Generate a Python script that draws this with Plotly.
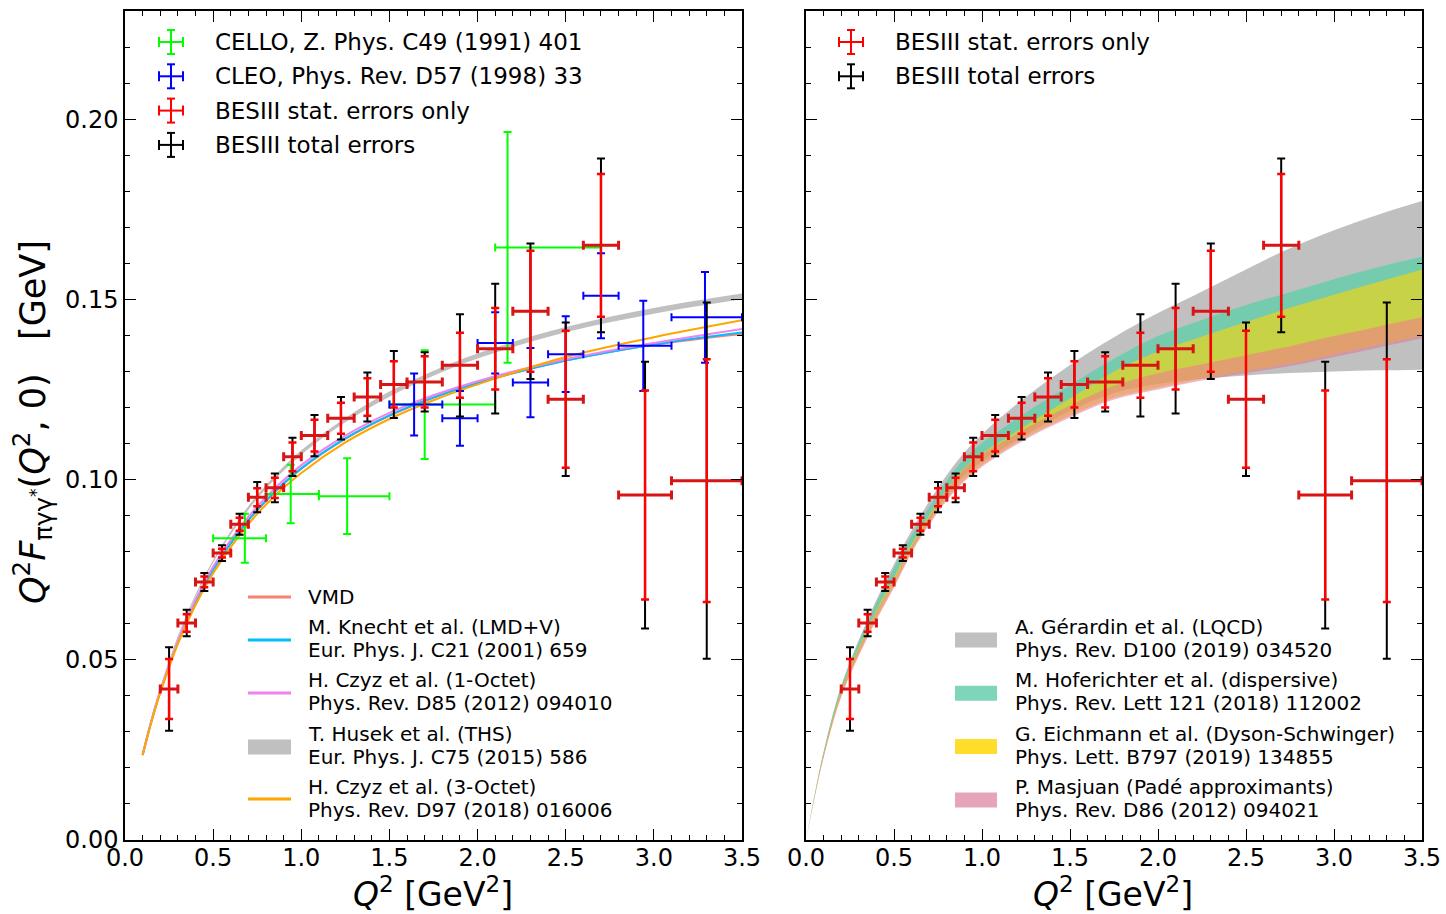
import plotly.graph_objects as go

W, H = 1446, 914
FONT = "DejaVu Sans"

# ---------------- BESIII measurement ----------------
bes_q2 = [0.25, 0.35, 0.45, 0.55, 0.65, 0.75, 0.85, 0.95, 1.075, 1.225, 1.375, 1.525,
          1.70, 1.90, 2.10, 2.30, 2.50, 2.70, 2.95, 3.30]
bes_dq2 = [0.05, 0.05, 0.05, 0.05, 0.05, 0.05, 0.05, 0.05, 0.075, 0.075, 0.075, 0.075,
           0.10, 0.10, 0.10, 0.10, 0.10, 0.10, 0.15, 0.20]
bes_val = [0.0419, 0.0602, 0.0716, 0.0796, 0.0876, 0.0951, 0.0977, 0.1063, 0.1122, 0.1170,
           0.1229, 0.1264, 0.1271, 0.1317, 0.1363, 0.1467, 0.1223, 0.1650, 0.0957, 0.0997]
bes_stat = [0.0083, 0.0024, 0.0015, 0.0012, 0.0018, 0.0025, 0.0028, 0.0040, 0.0044, 0.0043,
            0.0052, 0.0064, 0.0071, 0.0090, 0.0113, 0.0168, 0.0190, 0.0198, 0.0290, 0.0337]
bes_tot = [0.0116, 0.0037, 0.0025, 0.0022, 0.0029, 0.0042, 0.0040, 0.0053, 0.0057, 0.0059,
           0.0068, 0.0093, 0.0082, 0.0142, 0.0180, 0.0188, 0.0213, 0.0241, 0.0370, 0.0494]

# ---------------- CELLO ----------------
cello_q2 = [0.68, 0.94, 1.26, 1.70, 2.17]
cello_lo = [0.50, 0.80, 1.10, 1.50, 2.10]
cello_hi = [0.80, 1.10, 1.50, 2.10, 2.70]
cello_val = [0.0837, 0.0960, 0.0954, 0.1208, 0.1644]
cello_err = [0.0068, 0.0081, 0.0105, 0.0151, 0.0320]

# ---------------- CLEO ----------------
cleo_q2 = [1.64, 1.90, 2.10, 2.30, 2.50, 2.70, 2.94, 3.29]
cleo_lo = [1.50, 1.80, 2.00, 2.20, 2.40, 2.60, 2.80, 3.10]
cleo_hi = [1.80, 2.00, 2.20, 2.40, 2.60, 2.80, 3.10, 3.50]
cleo_val = [0.1208, 0.1170, 0.1379, 0.1269, 0.1348, 0.1510, 0.1371, 0.1450]
cleo_err = [0.0086, 0.0076, 0.0085, 0.0096, 0.0105, 0.0118, 0.0125, 0.0126]

# ---------------- model curves (left panel) ----------------
th_q2 = [0.1, 0.15, 0.2, 0.3, 0.4, 0.5, 0.65, 0.8, 1.0, 1.25, 1.5, 1.75, 2.0, 2.5, 3.0, 3.5]
vmd = [0.0235, 0.0329, 0.0411, 0.0549, 0.0659, 0.0749, 0.0856, 0.0941, 0.1030, 0.1113,
       0.1177, 0.1227, 0.1268, 0.1330, 0.1374, 0.1404]
knecht = [0.0236, 0.0330, 0.0412, 0.0550, 0.0660, 0.0750, 0.0857, 0.0942, 0.1031, 0.1114,
          0.1178, 0.1228, 0.1268, 0.1330, 0.1375, 0.1408]
czyz1 = [0.0237, 0.0332, 0.0415, 0.0555, 0.0667, 0.0758, 0.0866, 0.0951, 0.1040, 0.1122,
         0.1185, 0.1234, 0.1273, 0.1334, 0.1379, 0.1418]
czyz3 = [0.0236, 0.0328, 0.0408, 0.0544, 0.0652, 0.0740, 0.0846, 0.0931, 0.1018, 0.1103,
         0.1168, 0.1220, 0.1264, 0.1340, 0.1395, 0.1442]
ths_lo = [0.0235, 0.0330, 0.0415, 0.0558, 0.0674, 0.0769, 0.0883, 0.0975, 0.1069, 0.1159,
          0.1230, 0.1288, 0.1336, 0.1409, 0.1460, 0.1500]
ths_hi = [0.0239, 0.0336, 0.0421, 0.0566, 0.0682, 0.0777, 0.0893, 0.0985, 0.1081, 0.1171,
          0.1244, 0.1302, 0.1350, 0.1423, 0.1476, 0.1516]

# ---------------- theory bands (right panel) ----------------
band_q2 = [0.0, 0.05, 0.1, 0.2, 0.35, 0.5, 0.65, 0.9, 1.2, 1.5, 1.75, 2.0, 2.25, 2.5,
           2.75, 3.0, 3.25, 3.5]
lqcd_lo = [0.0, 0.0122, 0.0232, 0.0405, 0.0575, 0.0720, 0.0848, 0.1012, 0.1110, 0.1190,
           0.1240, 0.1265, 0.1280, 0.1289, 0.1296, 0.1300, 0.1303, 0.1305]
lqcd_hi = [0.0, 0.0128, 0.0245, 0.0428, 0.0612, 0.0765, 0.0900, 0.1075, 0.1210, 0.1318,
           0.1395, 0.1462, 0.1522, 0.1583, 0.1642, 0.1692, 0.1735, 0.1773]
disp_lo = [0.0, 0.0124, 0.0236, 0.0410, 0.0582, 0.0722, 0.0855, 0.1030, 0.1128, 0.1205,
           0.1260, 0.1295, 0.1320, 0.1345, 0.1370, 0.1398, 0.1424, 0.1450]
disp_hi = [0.0, 0.0127, 0.0243, 0.0424, 0.0605, 0.0755, 0.0885, 0.1058, 0.1170, 0.1262,
           0.1335, 0.1398, 0.1443, 0.1484, 0.1520, 0.1556, 0.1589, 0.1618]
dse_lo = [0.0, 0.0121, 0.0230, 0.0399, 0.0566, 0.0704, 0.0842, 0.1000, 0.1103, 0.1177,
          0.1227, 0.1255, 0.1280, 0.1301, 0.1321, 0.1347, 0.1373, 0.1398]
dse_hi = [0.0, 0.0125, 0.0238, 0.0414, 0.0588, 0.0730, 0.0862, 0.1033, 0.1135, 0.1225,
          0.1300, 0.1355, 0.1397, 0.1437, 0.1477, 0.1513, 0.1548, 0.1583]
pade_lo = [0.0, 0.0120, 0.0228, 0.0396, 0.0562, 0.0700, 0.0838, 0.0995, 0.1098, 0.1172,
           0.1222, 0.1250, 0.1275, 0.1296, 0.1315, 0.1340, 0.1366, 0.1392]
pade_hi = [0.0, 0.0124, 0.0236, 0.0410, 0.0582, 0.0722, 0.0855, 0.1030, 0.1128, 0.1205,
           0.1260, 0.1295, 0.1320, 0.1345, 0.1370, 0.1398, 0.1424, 0.1450]

# ---------------- legend texts ----------------
exp_labels = ["CELLO, Z. Phys. C49 (1991) 401", "CLEO, Phys. Rev. D57 (1998) 33",
              "BESIII stat. errors only", "BESIII total errors"]
exp_colors = ["#00ff00", "#0000ff", "#ff0000", "#000000"]
model_names = ["VMD", "M. Knecht et al. (LMD+V)", "H. Czyz et al. (1-Octet)",
               "T. Husek et al. (THS)", "H. Czyz et al. (3-Octet)"]
model_refs = ["", "Eur. Phys. J. C21 (2001) 659", "Phys. Rev. D85 (2012) 094010",
              "Eur. Phys. J. C75 (2015) 586", "Phys. Rev. D97 (2018) 016006"]
band_names = ["A. Gérardin et al. (LQCD)", "M. Hoferichter et al. (dispersive)",
              "G. Eichmann et al. (Dyson-Schwinger)", "P. Masjuan (Padé approximants)"]
band_refs = ["Phys. Rev. D100 (2019) 034520", "Phys. Rev. Lett 121 (2018) 112002",
             "Phys. Lett. B797 (2019) 134855", "Phys. Rev. D86 (2012) 094021"]

C_VMD, C_KN, C_CZ1, C_THS, C_CZ3 = "#fa8072", "#00bfff", "#ee82ee", "#c0c0c0", "#ffa500"
C_LQCD = "rgb(192,192,192)"
C_DISP = "rgba(102,205,170,0.85)"
C_DSE = "rgba(255,215,0,0.6)"
C_PADE = "rgba(219,112,147,0.5)"

fig = go.Figure()
NOMARK = dict(size=1, color="rgba(0,0,0,0)")


def add_band(x, lo, hi, color, xa, ya):
    fig.add_trace(go.Scatter(x=x, y=lo, mode="lines", line=dict(width=0, shape="spline"),
                             showlegend=False, hoverinfo="skip", xaxis=xa, yaxis=ya))
    fig.add_trace(go.Scatter(x=x, y=hi, mode="lines", line=dict(width=0, shape="spline"),
                             fill="tonexty", fillcolor=color, showlegend=False,
                             hoverinfo="skip", xaxis=xa, yaxis=ya))


def add_besiii(xa, ya):
    fig.add_trace(go.Scatter(
        x=bes_q2, y=bes_val, mode="markers", marker=NOMARK, showlegend=False,
        error_y=dict(type="data", array=bes_tot, color="black", thickness=2, width=4),
        xaxis=xa, yaxis=ya))
    fig.add_trace(go.Scatter(
        x=bes_q2, y=bes_val, mode="markers", marker=NOMARK, showlegend=False,
        error_x=dict(type="data", array=bes_dq2, color="#d81414", thickness=3, width=4.5),
        error_y=dict(type="data", array=bes_stat, color="#ff0000", thickness=2.5, width=4),
        xaxis=xa, yaxis=ya))


# ---- left panel: models ----
fig.add_trace(go.Scatter(x=th_q2, y=vmd, mode="lines", line=dict(color=C_VMD, width=2, shape="spline"),
                         showlegend=False, xaxis="x", yaxis="y"))
fig.add_trace(go.Scatter(x=th_q2, y=knecht, mode="lines", line=dict(color=C_KN, width=2, shape="spline"),
                         showlegend=False, xaxis="x", yaxis="y"))
fig.add_trace(go.Scatter(x=th_q2, y=czyz1, mode="lines", line=dict(color=C_CZ1, width=2, shape="spline"),
                         showlegend=False, xaxis="x", yaxis="y"))
add_band(th_q2, ths_lo, ths_hi, C_THS, "x", "y")
fig.add_trace(go.Scatter(x=th_q2, y=czyz3, mode="lines", line=dict(color=C_CZ3, width=2, shape="spline"),
                         showlegend=False, xaxis="x", yaxis="y"))

# ---- left panel: older experiments ----
fig.add_trace(go.Scatter(
    x=cello_q2, y=cello_val, mode="markers", marker=NOMARK, showlegend=False,
    error_x=dict(type="data", symmetric=False,
                 array=[h - c for h, c in zip(cello_hi, cello_q2)],
                 arrayminus=[c - l for c, l in zip(cello_q2, cello_lo)],
                 color="#00ff00", thickness=2, width=4),
    error_y=dict(type="data", array=cello_err, color="#00ff00", thickness=2, width=4),
    xaxis="x", yaxis="y"))
fig.add_trace(go.Scatter(
    x=cleo_q2, y=cleo_val, mode="markers", marker=NOMARK, showlegend=False,
    error_x=dict(type="data", symmetric=False,
                 array=[h - c for h, c in zip(cleo_hi, cleo_q2)],
                 arrayminus=[c - l for c, l in zip(cleo_q2, cleo_lo)],
                 color="#0000ff", thickness=2, width=4),
    error_y=dict(type="data", array=cleo_err, color="#0000ff", thickness=2, width=4),
    xaxis="x", yaxis="y"))
add_besiii("x", "y")

# ---- right panel: theory bands + BESIII ----
add_band(band_q2, lqcd_lo, lqcd_hi, C_LQCD, "x2", "y2")
add_band(band_q2, disp_lo, disp_hi, C_DISP, "x2", "y2")
add_band(band_q2, dse_lo, dse_hi, C_DSE, "x2", "y2")
add_band(band_q2, pade_lo, pade_hi, C_PADE, "x2", "y2")
add_besiii("x2", "y2")

# ---------------- axes ----------------
TICKFONT = dict(family=FONT, size=24, color="black")


def xax(domain, anchor):
    return dict(domain=domain, anchor=anchor, range=[0, 3.5], tick0=0, dtick=0.5,
                tickformat=".1f", ticks="inside", ticklen=11, tickwidth=1.2, tickcolor="black",
                showline=True, linecolor="black", linewidth=1.5, mirror="allticks",
                showgrid=False, zeroline=False, tickfont=TICKFONT, automargin=False,
                ticklabelstandoff=-5,
                minor=dict(dtick=0.1, ticks="inside", ticklen=5, tickwidth=1,
                           tickcolor="black", showgrid=False))


def yax(anchor, labels):
    return dict(domain=[1 - 840 / H, 1 - 11 / H], range=[0, 0.23], tick0=0, dtick=0.05,
                tickformat=".2f", ticks="inside", ticklen=11, tickwidth=1.2, tickcolor="black",
                showline=True, linecolor="black", linewidth=1.5, mirror="allticks",
                showgrid=False, zeroline=False, tickfont=TICKFONT, showticklabels=labels,
                anchor=anchor, automargin=False,
                minor=dict(dtick=0.01, ticks="inside", ticklen=5, tickwidth=1,
                           tickcolor="black", showgrid=False))


# ---------------- legends and titles ----------------
shapes, annots = [], []


def px(x):
    return x / W


def py(y):
    return 1 - y / H


def seg(x0, y0, x1, y1, color, width=2):
    shapes.append(dict(type="line", xref="paper", yref="paper", x0=px(x0), y0=py(y0),
                       x1=px(x1), y1=py(y1), line=dict(color=color, width=width)))


def cross_icon(cx, cy, color):
    seg(cx - 12, cy, cx + 12, cy, color)
    seg(cx, cy - 12, cx, cy + 12, color)
    seg(cx - 4, cy - 12, cx + 4, cy - 12, color)
    seg(cx - 4, cy + 12, cx + 4, cy + 12, color)
    seg(cx - 12, cy - 5, cx - 12, cy + 5, color)
    seg(cx + 12, cy - 5, cx + 12, cy + 5, color)


def text(x, y, s, size, **kw):
    annots.append(dict(xref="paper", yref="paper", x=px(x), y=py(y), text=s, showarrow=False,
                       xanchor=kw.get("xanchor", "left"), yanchor="middle",
                       textangle=kw.get("angle", 0),
                       font=dict(family=FONT, size=size, color="black")))


# experiment legend (left)
for i, (lab, col) in enumerate(zip(exp_labels, exp_colors)):
    yy = 42 + i * 34.3
    cross_icon(171, yy, col)
    text(213, yy, lab, 23)

# experiment legend (right)
for i, (lab, col) in enumerate(zip(exp_labels[2:], exp_colors[2:])):
    yy = 42 + i * 34.3
    cross_icon(851, yy, col)
    text(893, yy, lab, 23)

# model legend (left, bottom)
text(306, 597, model_names[0], 20)
seg(248, 597, 291, 597, C_VMD, 3)
icon_y = [None, 640, 693, 747, 799]
line_cols = [None, C_KN, C_CZ1, C_THS, C_CZ3]
for k in range(1, 5):
    y1 = 627 + (k - 1) * 53.3
    text(306, y1, model_names[k], 20)
    text(306, y1 + 23, model_refs[k], 20)
    if k == 3:
        shapes.append(dict(type="rect", xref="paper", yref="paper", x0=px(248), x1=px(291),
                           y0=py(754.5), y1=py(739.5), line=dict(width=0),
                           fillcolor=C_THS))
    else:
        seg(248, icon_y[k], 291, icon_y[k], line_cols[k], 3)

# band legend (right, bottom)
patch_cols = ["rgb(192,192,192)", "rgb(127,213,185)", "rgb(255,221,42)", "rgb(229,165,185)"]
for k in range(4):
    y1 = 627 + k * 53.3
    text(1013, y1, band_names[k], 20)
    text(1013, y1 + 23, band_refs[k], 20)
    yc = y1 + 13
    shapes.append(dict(type="rect", xref="paper", yref="paper", x0=px(955), x1=px(997),
                       y0=py(yc + 7.5), y1=py(yc - 7.5), line=dict(width=0),
                       fillcolor=patch_cols[k]))

# axis titles
xtitle = "<i>Q</i><sup>2</sup> [GeV<sup>2</sup>]"
text(433, 892, xtitle, 33, xanchor="center")
text(1113, 892, xtitle, 33, xanchor="center")
text(32, 422,
     "<i>Q</i><sup>2</sup><i>F</i><sub>πγγ<sup>*</sup></sub>(<i>Q</i><sup>2</sup>, 0) &nbsp;&nbsp;[GeV]",
     35, xanchor="center", angle=-90)

fig.update_layout(
    width=W, height=H, margin=dict(l=0, r=0, t=0, b=0, autoexpand=False),
    paper_bgcolor="white", plot_bgcolor="white", showlegend=False,
    xaxis=xax([125 / W, 742 / W], "y"), yaxis=yax("x", True),
    xaxis2=xax([806 / W, 1422 / W], "y2"), yaxis2=yax("x2", False),
    shapes=shapes, annotations=annots,
)

fig.write_html("out.html")
